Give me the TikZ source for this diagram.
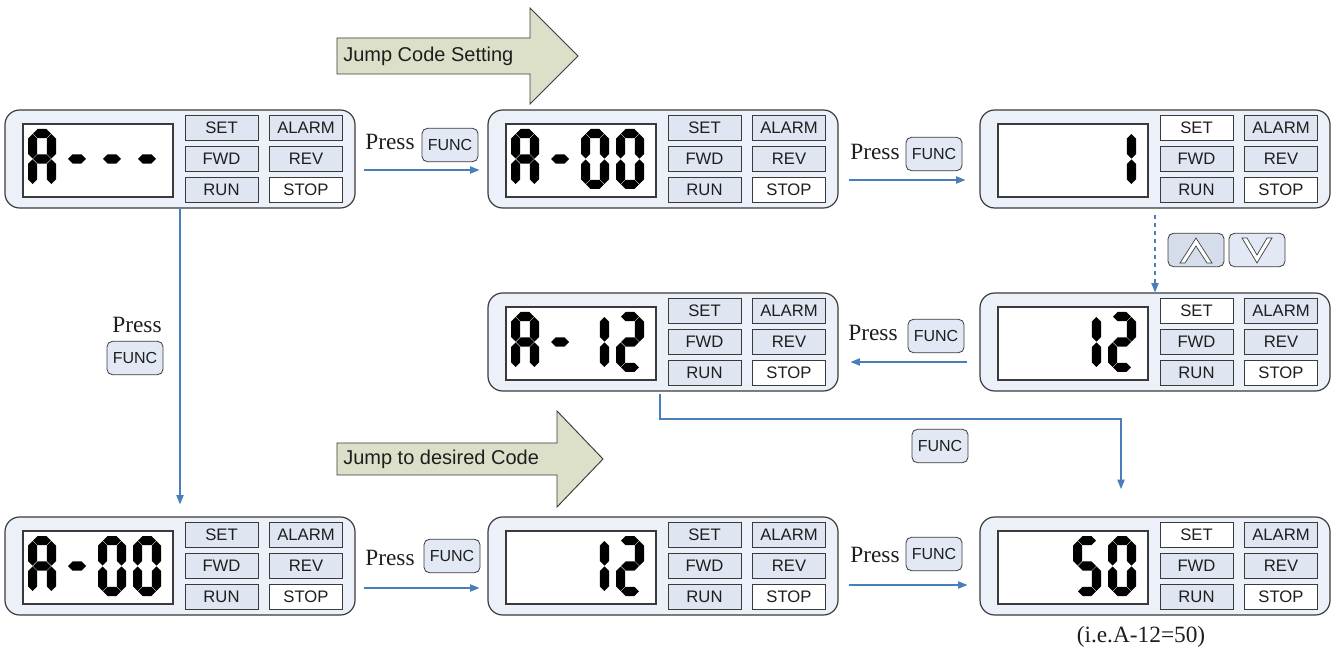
\documentclass[tikz,border=0pt]{standalone}
\usepackage{fontspec}
\setmainfont{Liberation Serif}
\setsansfont{Liberation Sans}
\usetikzlibrary{arrows.meta,calc}
\definecolor{panelfill}{HTML}{ECF1F9}
\definecolor{btnfill}{HTML}{DFE6F1}
\definecolor{keyfill}{HTML}{E2E9F5}
\definecolor{keydark}{HTML}{D5DDEB}
\definecolor{edge}{HTML}{3A3A3A}
\definecolor{flow}{HTML}{4A7EBB}
\definecolor{khaki}{HTML}{DDE0C9}
\definecolor{ink}{HTML}{1E1E1E}

\def\segh{4.6}
\def\segg{0.4}
\newcommand\hseg[3]{\fill ({#1+\segg},{#3}) -- ({#1+\segg+\segh},{#3-\segh}) -- ({#2-\segg-\segh},{#3-\segh}) -- ({#2-\segg},{#3}) -- ({#2-\segg-\segh},{#3+\segh}) -- ({#1+\segg+\segh},{#3+\segh}) -- cycle;}
\newcommand\vseg[3]{\fill ({#1},{#2+\segg}) -- ({#1+\segh},{#2+\segg+\segh}) -- ({#1+\segh},{#3-\segg-\segh}) -- ({#1},{#3-\segg}) -- ({#1-\segh},{#3-\segg-\segh}) -- ({#1-\segh},{#2+\segg+\segh}) -- cycle;}
\newcommand\segA{\hseg{\dL}{\dR}{\dT}}
\newcommand\segB{\vseg{\dR}{\dT}{\dM}}
\newcommand\segC{\vseg{\dR}{\dM}{\dB}}
\newcommand\segD{\hseg{\dL}{\dR}{\dB}}
\newcommand\segE{\vseg{\dL}{\dM}{\dB}}
\newcommand\segF{\vseg{\dL}{\dT}{\dM}}
\newcommand\segG{\hseg{\dL}{\dR}{\dM}}
\newcommand\digit[3]{\pgfmathsetmacro\dL{#1+4.6}\pgfmathsetmacro\dR{#1+23.4}\pgfmathsetmacro\dT{#2+4.6}\pgfmathsetmacro\dM{#2+30}\pgfmathsetmacro\dB{#2+55.4}\foreach \s in {#3}{\csname seg\s\endcsname}}
% left, top, cell index, segments
\newcommand\lcdchar[4]{\digit{#1+23+35*#3}{#2+19}{#4}}

\newcommand\panelbox[4]{%
  \node[panel] (#1) at ({#2+175},{#3+49}) {};
  \draw[lcd] ({#2+18},{#3+14}) rectangle ({#2+168},{#3+87});
  \node[btn,#4] (#1-set) at ({#2+216.5},{#3+17.5}) {SET};
  \node[btn] (#1-alarm) at ({#2+301},{#3+17.5}) {ALARM};
  \node[btn] (#1-fwd) at ({#2+216.5},{#3+49}) {FWD};
  \node[btn] (#1-rev) at ({#2+301},{#3+49}) {REV};
  \node[btn] (#1-run) at ({#2+216.5},{#3+80}) {RUN};
  \node[btn,fill=white] (#1-stop) at ({#2+301},{#3+80}) {STOP};
}

\begin{document}
\begin{tikzpicture}[x=0.75pt,y=-0.75pt,
  panel/.style={draw=edge,fill=panelfill,rounded corners=11pt,minimum width=262.5pt,minimum height=73.5pt,line width=0.9pt,inner sep=0pt},
  lcd/.style={draw=edge,fill=white,line width=0.8pt},
  btn/.style={draw=edge,fill=btnfill,minimum width=54.75pt,minimum height=18.75pt,inner sep=0pt,line width=0.6pt,text=ink,font=\sffamily\fontsize{12.5}{14}\selectfont},
  lit/.style={fill=white},
  key/.style={draw=edge,fill=keyfill,rounded corners=4pt,minimum width=42pt,minimum height=25pt,inner sep=0pt,line width=0.6pt,text=ink,font=\sffamily\fontsize{12}{14}\selectfont},
  press/.style={text=ink,inner sep=0pt,font=\fontsize{17.5}{20}\selectfont},
  conn/.style={draw=flow,line width=0.8pt,-{Triangle[length=7pt,width=5.5pt]}},
  bigarrow/.style={draw=edge,fill=khaki,line width=0.7pt},
  bigtext/.style={anchor=west,inner sep=0pt,text=ink,font=\sffamily\fontsize{15}{18}\selectfont}]
\useasboundingbox (0,0) rectangle (1338,655);

% big arrows
\draw[bigarrow] (337,38) -- (530,38) -- (530,8) -- (578,56) -- (530,104) -- (530,74) -- (337,74) -- cycle;
\node[bigtext] (jcs) at (343,56) {Jump Code Setting};
\draw[bigarrow] (337,443) -- (557,443) -- (557,411) -- (603,459) -- (557,507) -- (557,475) -- (337,475) -- cycle;
\node[bigtext] (jdc) at (343,459) {Jump to desired Code};

% panels
\panelbox{P1}{5}{110}{}
\panelbox{P2}{488}{110}{}
\panelbox{P3}{980}{110}{lit}
\panelbox{P4}{488}{293}{}
\panelbox{P5}{980}{293}{lit}
\panelbox{P6}{5}{517}{}
\panelbox{P7}{488}{517}{}
\panelbox{P8}{980}{517}{lit}

% displays
\lcdchar{5}{110}{0}{A,B,C,E,F,G}
\lcdchar{5}{110}{1}{G}
\lcdchar{5}{110}{2}{G}
\lcdchar{5}{110}{3}{G}

\lcdchar{488}{110}{0}{A,B,C,E,F,G}
\lcdchar{488}{110}{1}{G}
\lcdchar{488}{110}{2}{A,B,C,D,E,F}
\lcdchar{488}{110}{3}{A,B,C,D,E,F}

\lcdchar{980}{110}{3}{B,C}

\lcdchar{488}{293}{0}{A,B,C,E,F,G}
\lcdchar{488}{293}{1}{G}
\lcdchar{488}{293}{2}{B,C}
\lcdchar{488}{293}{3}{A,B,G,E,D}

\lcdchar{980}{293}{2}{B,C}
\lcdchar{980}{293}{3}{A,B,G,E,D}

\lcdchar{5}{517}{0}{A,B,C,E,F,G}
\lcdchar{5}{517}{1}{G}
\lcdchar{5}{517}{2}{A,B,C,D,E,F}
\lcdchar{5}{517}{3}{A,B,C,D,E,F}

\lcdchar{488}{517}{2}{B,C}
\lcdchar{488}{517}{3}{A,B,G,E,D}

\lcdchar{980}{517}{2}{A,F,G,C,D}
\lcdchar{980}{517}{3}{A,B,C,D,E,F}

% labels
\node[press] (pr1) at (390,142) {Press};
\node[key] (k1) at (450,145) {FUNC};
\node[press] (pr2) at (875,152) {Press};
\node[key] (k2) at (934,154) {FUNC};
\node[press] (pr3) at (873,333) {Press};
\node[key] (k3) at (936,336) {FUNC};
\node[key] (k4) at (940,446) {FUNC};
\node[press] (pr5) at (137,325) {Press};
\node[key] (k5) at (135,358) {FUNC};
\node[press] (pr6) at (390,558) {Press};
\node[key] (k6) at (452,556) {FUNC};
\node[press] (pr7) at (875,555) {Press};
\node[key] (k7) at (934,554) {FUNC};
\node[press] (note) at (1141,637) {(i.e.A-12=50)};

% up / down keys
\node[key,fill=keydark] (up) at (1196,250) {};
\node[key] (down) at (1257,250) {};
\draw[draw=edge,fill=white,line width=0.5pt] (1180,263) -- (1196,238) -- (1212,263) -- (1207,263) -- (1196,246) -- (1185,263) -- cycle;
\draw[draw=edge,fill=white,line width=0.5pt] (1242,238) -- (1257,263) -- (1272,238) -- (1267,238) -- (1257,255) -- (1247,238) -- cycle;

% connectors
\draw[conn] ($(P1.east)+(8,11)$) -- ($(P2.west)+(-8,11)$);
\draw[conn] ($(P2.east)+(10,21)$) -- ($(P3.west)+(-14,21)$);
\draw[conn,dashed] ($(P3.south)+(0,6)$) -- (P5.north);
\draw[conn] ($(P5.west)+(-12,20)$) -- ($(P4.east)+(12,20)$);
\coordinate (bend) at (1121,419);
\coordinate (P8in) at (1121,489);
\draw[conn] ($(P4.south)+(-3,2)$) |- (bend) -- (P8in);
\draw[conn] (P1.south) -- ($(P6.north)+(0,-12)$);
\draw[conn] ($(P6.east)+(8,22)$) -- ($(P7.west)+(-8,22)$);
\draw[conn] ($(P7.east)+(10,19)$) -- ($(P8.west)+(-12,19)$);
\end{tikzpicture}
\end{document}
